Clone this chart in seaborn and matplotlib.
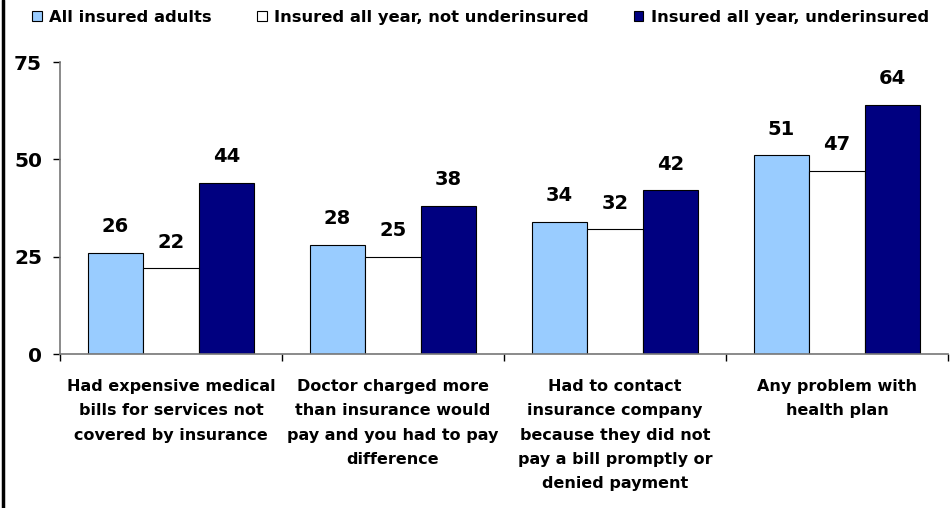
import pandas as pd
import seaborn as sns
import matplotlib.pyplot as plt
from matplotlib.lines import Line2D
from matplotlib.ticker import FixedLocator

items = ["Had expensive medical\nbills for services not\ncovered by insurance",
         "Doctor charged more\nthan insurance would\npay and you had to pay\ndifference",
         "Had to contact\ninsurance company\nbecause they did not\npay a bill promptly or\ndenied payment",
         "Any problem with\nhealth plan"]
groups = ["All insured adults", "Insured all year, not underinsured", "Insured all year, underinsured"]
all_insured = [26, 28, 34, 51]
not_under = [22, 25, 32, 47]
under = [44, 38, 42, 64]
colors = ["#99CCFF", "#FFFFFF", "#000080"]

rows = []
for g, vals in zip(groups, [all_insured, not_under, under]):
    for it, v in zip(items, vals):
        rows.append({"item": it, "group": g, "pct": v})
df = pd.DataFrame(rows)

sns.set_style("white")
plt.rcParams['font.family'] = ['DejaVu Sans']
plt.rcParams['text.color'] = 'black'
plt.rcParams['xtick.color'] = 'black'
plt.rcParams['ytick.color'] = 'black'

fig = plt.figure(figsize=(9.52, 5.08), dpi=100)
ax = fig.add_axes([60/952, 154/508, 888/952, 292/508])

sns.barplot(data=df, x="item", y="pct", hue="group", palette=colors, width=0.75, gap=0,
            saturation=1, edgecolor="black", linewidth=0.8, ax=ax)

for c in ax.containers:
    ax.bar_label(c, padding=12, fontsize=14, fontweight="bold", color="black")

ax.set_xlim(-0.5, 3.5)
ax.set_ylim(0, 75)
ax.set_yticks([0, 25, 50, 75])
ax.set_xlabel("")
ax.set_ylabel("")
ax.xaxis.set_minor_locator(FixedLocator([-0.5, 0.5, 1.5, 2.5, 3.5]))
ax.tick_params(axis="x", which="major", length=0, pad=18, labelsize=11.5)
ax.tick_params(axis="x", which="minor", length=5, width=1, color="black", direction="out", bottom=True)
ax.tick_params(axis="y", length=5, width=1, color="black", direction="out", left=True, pad=8, labelsize=14.5)
for lab in ax.get_xticklabels() + ax.get_yticklabels():
    lab.set_fontweight("bold")
for lab in ax.get_xticklabels():
    lab.set_linespacing(1.78)

sns.despine(ax=ax)
for s in ["left", "bottom"]:
    ax.spines[s].set_color("#777777")
    ax.spines[s].set_linewidth(1.2)

handles, labels = ax.get_legend_handles_labels()
ax.get_legend().remove()
fig.legend(handles, labels, loc="upper left", bbox_to_anchor=(22/952, 1.0), ncol=3, frameon=False,
           prop={"weight": "bold", "size": 11.8}, handlelength=0.6, handleheight=0.6,
           handletextpad=0.45, columnspacing=2.75, borderaxespad=0.2)

fig.add_artist(Line2D([2.5/952, 2.5/952], [0, 1], color="black", linewidth=2.5, transform=fig.transFigure))

fig.savefig("out.png", dpi=100)
